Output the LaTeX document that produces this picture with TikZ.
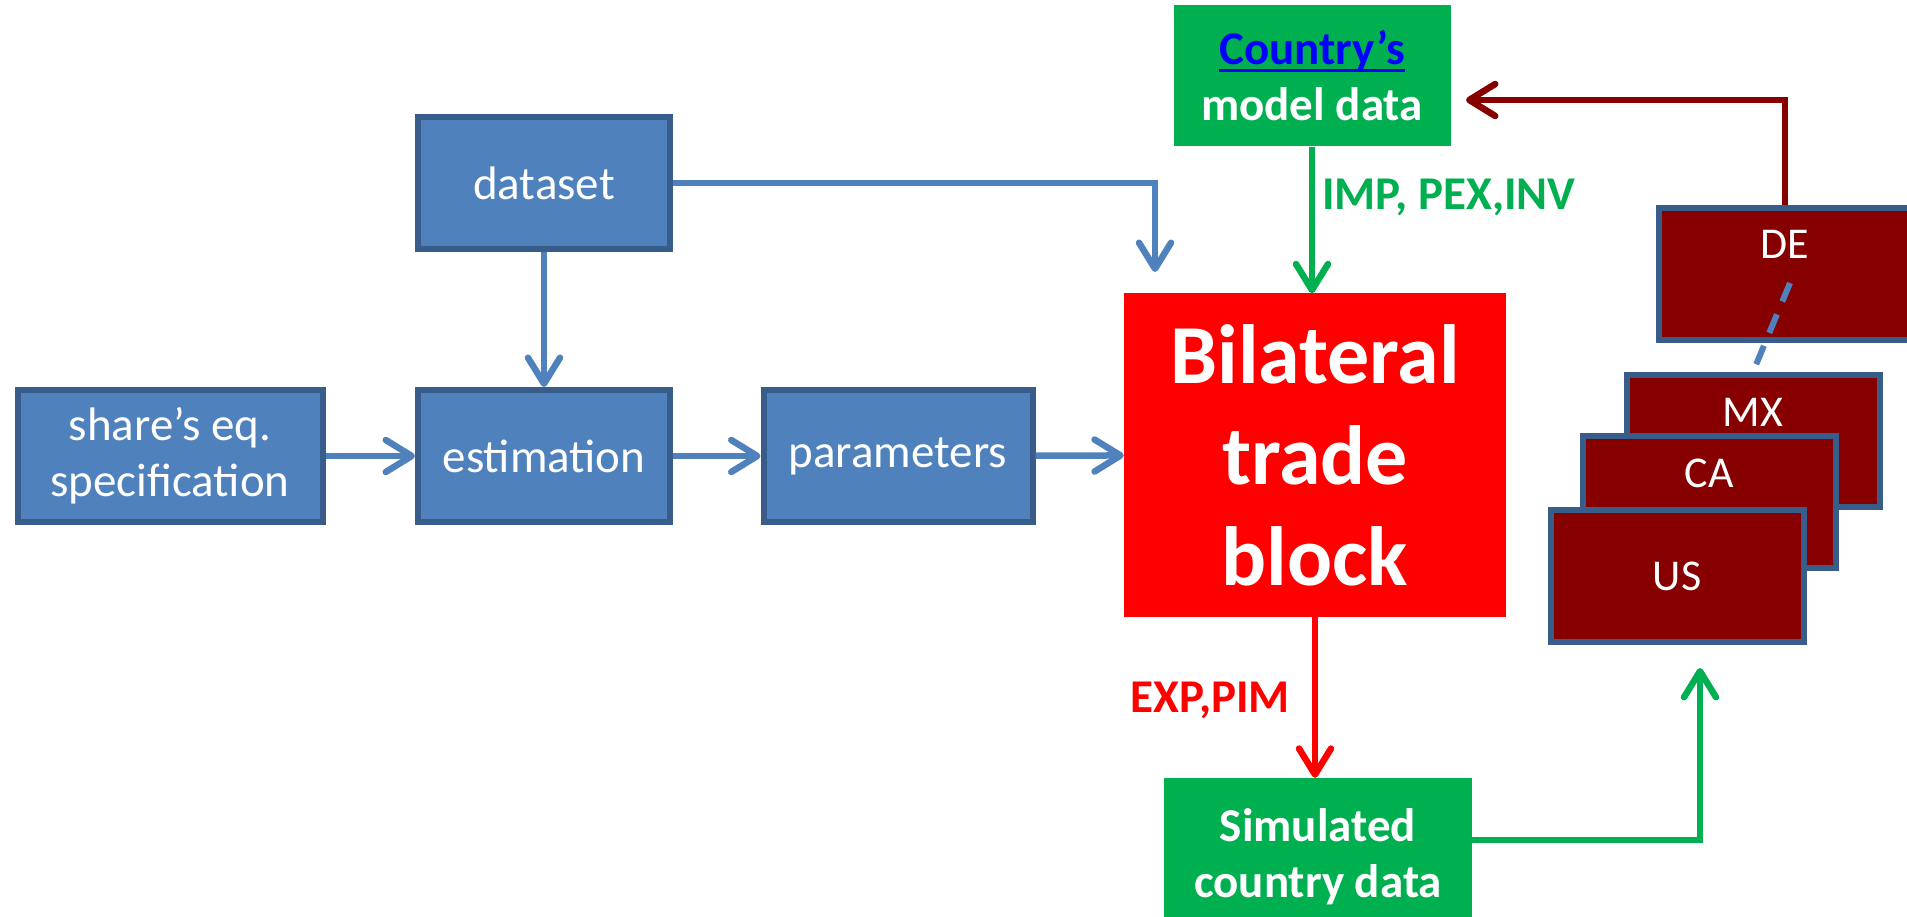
\documentclass[tikz,border=0pt]{standalone}
\usepackage{fontspec}
\setmainfont{Carlito}
\usetikzlibrary{arrows.meta,positioning}

\definecolor{boxblue}{HTML}{4F81BD}
\definecolor{edgeblue}{HTML}{385D8A}
\definecolor{datagreen}{HTML}{00B050}
\definecolor{blockred}{HTML}{FF0000}
\definecolor{ctryred}{HTML}{860000}
\definecolor{linkblue}{HTML}{0000FF}

\newcommand{\boxfont}{\fontsize{47}{56}\selectfont}
\newcommand{\blockfont}{\fontsize{84}{101}\selectfont\bfseries}
\newcommand{\ctryfont}{\fontsize{44}{53}\selectfont}
\newcommand{\lift}[1]{\raisebox{15pt}[0pt][0pt]{#1}}
\newsavebox{\ulbox}
\newcommand{\ulword}[1]{\sbox{\ulbox}{#1}\rlap{\rule[-7pt]{\wd\ulbox}{3pt}}\usebox{\ulbox}}

\begin{document}
\begin{tikzpicture}
        [x=1pt,y=-1pt,
         >={Straight Barb[length=26pt,width=32pt,round]},
         every node/.style={inner sep=0pt,align=center,font=\boxfont},
         stage/.style={draw=edgeblue,fill=boxblue,line width=6pt,text=white,minimum height=132pt},
         datum/.style={fill=datagreen,text=white,font=\boxfont\bfseries},
         ctry/.style={draw=edgeblue,fill=ctryred,line width=6pt,text=white,minimum width=253pt,minimum height=132pt,font=\ctryfont},
         link/.style={line width=6.5pt,->}]
        \useasboundingbox (0,0) rectangle (1907,917);
        \clip (0,0) rectangle (1907,917);

        % estimation chain
        \node[stage,minimum width=305pt] (spec) at (170,456) {share’s eq.\\specification};
        \node[stage,minimum width=252pt] (estim) at (544,456) {estimation};
        \node[stage,minimum width=252pt] (dataset) at (544,183) {dataset};
        \node[stage,minimum width=269pt] (param) at (898,456) {parameters};

        % trade block and country data
        \node[fill=blockred,text=white,minimum width=382pt,minimum height=323pt,font=\blockfont] (block) at (1315,455) {Bilateral\\trade\\block};
        \node[datum,minimum width=277pt,minimum height=141pt] (cmodel) at (1312,76) {\textcolor{linkblue}{\ulword{Country’s}}\\model data};
        \node[datum,minimum width=308pt,minimum height=158pt] (sim) at (1318,857) {Simulated\\country data};

        % country models, back to front
        \node[ctry] (DE) at (1785,274) {\lift{DE}};
        \node[ctry] (MX) at (1753,441) {\lift{MX}};
        \draw[line width=6pt,boxblue,dash pattern=on 20pt off 14pt] ([xshift=5pt,yshift=-9pt]DE.center) -- (MX.north);
        \node[ctry] (CA) at (1709,502) {\lift{CA}};
        \node[ctry] (US) at (1677,576) {US};

        \coordinate (dsdrop) at (1155,272);
        \coordinate (usin) at (1700,668);
        \coordinate (backin) at (1466,100);

        \draw[link,boxblue] (spec) -- (estim);
        \draw[link,boxblue] (estim) -- (param);
        \draw[link,boxblue] (param) -- (block);
        \draw[link,boxblue] (dataset) -- (estim);
        \draw[link,boxblue] (dataset) -| (dsdrop);

        \draw[link,datagreen] (cmodel) -- (cmodel |- block.north);
        \node[anchor=west,text=datagreen,font=\boxfont\bfseries] (inlab) at (1322,197) {IMP, PEX,INV};
        \draw[link,blockred] (block) -- (block |- sim.north);
        \node[anchor=east,text=blockred,font=\boxfont\bfseries] (outlab) at (1290,700) {EXP,PIM};

        \draw[link,datagreen] ([yshift=17pt]sim.east) -| (usin);
        \draw[link,ctryred] (DE.north) |- (backin);
    \end{tikzpicture}
\end{document}
